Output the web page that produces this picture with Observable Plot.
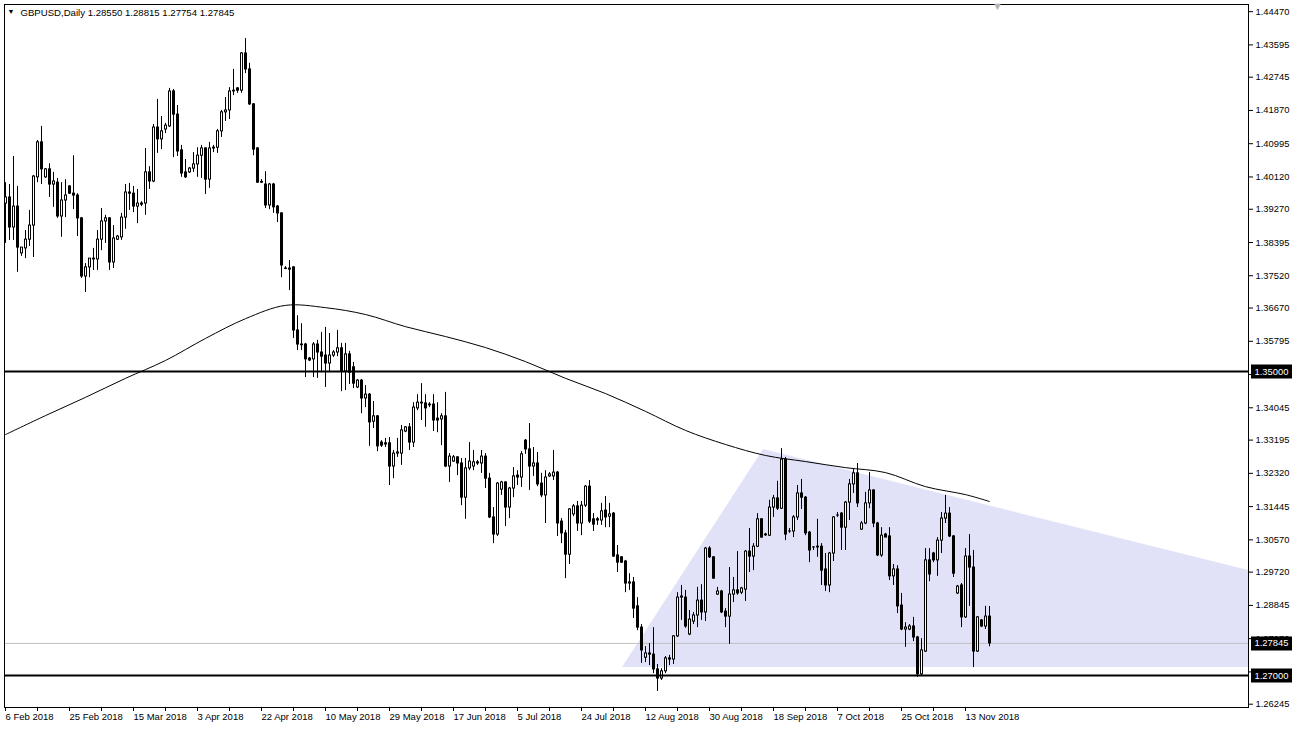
<!DOCTYPE html>
<html><head><meta charset="utf-8">
<script src="https://cdn.jsdelivr.net/npm/d3@7"></script>
<script src="https://cdn.jsdelivr.net/npm/@observablehq/plot@0.6"></script>
<style>html,body{margin:0;padding:0;background:#fff;} svg{display:block}</style>
</head><body><div id="chart"></div>
<script>
const symbol = "GBPUSD";
const timeframe = "Daily";

const opens = [1.3942,1.3958,1.3879,1.3934,1.3811,1.3824,1.3847,1.3884,1.4011,1.4103,
1.4011,1.4032,1.3992,1.3997,1.3908,1.3950,1.3987,1.3968,1.3963,1.3903,
1.3750,1.3774,1.3797,1.3795,1.3847,1.3895,1.3903,1.3787,1.3847,1.3853,
1.3905,1.3971,1.3968,1.3934,1.3942,1.3942,1.4024,1.4000,1.4142,1.4111,
1.4137,1.4145,1.4237,1.4176,1.4082,1.4024,1.4024,1.4034,1.4045,1.4068,
1.4087,1.4005,1.4087,1.4089,1.4132,1.4182,1.4187,1.4237,1.4245,1.4239,
1.4337,1.4295,1.4203,1.4087,1.3997,1.3992,1.3937,1.3992,1.3934,1.3916,
1.3771,1.3771,1.3774,1.3608,1.3571,1.3571,1.3534,1.3532,1.3571,1.3550,
1.3542,1.3521,1.3542,1.3550,1.3561,1.3500,1.3545,1.3511,1.3458,1.3476,
1.3429,1.3439,1.3368,1.3382,1.3313,1.3311,1.3311,1.3250,1.3284,1.3284,
1.3342,1.3353,1.3313,1.3403,1.3418,1.3416,1.3413,1.3413,1.3376,1.3374,
1.3382,1.3250,1.3263,1.3274,1.3258,1.3168,1.3245,1.3250,1.3261,1.3258,
1.3276,1.3218,1.3116,1.3071,1.3189,1.3208,1.3142,1.3192,1.3226,1.3221,
1.3318,1.3295,1.3250,1.3258,1.3205,1.3174,1.3224,1.3224,1.3234,1.3105,
1.3074,1.3018,1.3124,1.3145,1.3100,1.3147,1.3197,1.3111,1.3111,1.3108,
1.3134,1.3118,1.3126,1.3016,1.3011,1.3000,1.2942,1.2945,1.2882,1.2826,
1.2747,1.2758,1.2755,1.2716,1.2692,1.2711,1.2745,1.2742,1.2803,1.2905,
1.2905,1.2808,1.2842,1.2858,1.2897,1.2866,1.3034,1.3011,1.2913,1.2921,
1.2868,1.2855,1.2913,1.2924,1.2918,1.2926,1.3026,1.3013,1.3039,1.3111,
1.3071,1.3068,1.3142,1.3166,1.3139,1.3268,1.3079,1.3079,1.3116,1.3179,
1.3168,1.3076,1.3037,1.3037,1.3039,1.2979,1.2937,1.3021,1.3121,1.3126,
1.3089,1.3155,1.3203,1.3232,1.3084,1.3100,1.3153,1.3187,1.3100,1.3016,
1.3071,1.3066,1.2961,1.2979,1.2884,1.2821,1.2821,1.2829,1.2800,1.2703,
1.2763,1.3003,1.3021,1.3003,1.3055,1.3113,1.3126,1.3066,1.2916,1.2937,
1.2853,1.3013,1.2984,1.2763,1.2845,1.2829,1.28550];

const highs = [1.3997,1.3992,1.4066,1.3987,1.3826,1.3871,1.3924,1.4016,1.4108,1.4145,
1.4034,1.4047,1.4024,1.4008,1.3997,1.4005,1.3989,1.4068,1.3968,1.3905,
1.3784,1.3797,1.3824,1.3871,1.3929,1.3911,1.3905,1.3884,1.3858,1.3916,
1.3992,1.3995,1.3987,1.3979,1.3947,1.4087,1.4039,1.4150,1.4216,1.4171,
1.4153,1.4245,1.4242,1.4200,1.4095,1.4058,1.4037,1.4076,1.4089,1.4095,
1.4089,1.4103,1.4095,1.4137,1.4187,1.4221,1.4247,1.4295,1.4247,1.4339,
1.4376,1.4311,1.4205,1.4089,1.4005,1.4026,1.3995,1.3995,1.3937,1.3918,
1.3776,1.3792,1.3776,1.3647,1.3626,1.3574,1.3537,1.3576,1.3582,1.3603,
1.3616,1.3600,1.3555,1.3608,1.3574,1.3574,1.3553,1.3524,1.3479,1.3479,
1.3463,1.3442,1.3421,1.3384,1.3318,1.3324,1.3326,1.3292,1.3324,1.3358,
1.3355,1.3363,1.3418,1.3439,1.3468,1.3439,1.3418,1.3439,1.3418,1.3389,
1.3445,1.3284,1.3279,1.3276,1.3271,1.3271,1.3313,1.3292,1.3266,1.3292,
1.3284,1.3232,1.3142,1.3208,1.3211,1.3210,1.3195,1.3247,1.3239,1.3289,
1.3321,1.3363,1.3300,1.3287,1.3232,1.3239,1.3234,1.3292,1.3237,1.3113,
1.3082,1.3139,1.3150,1.3158,1.3158,1.3200,1.3213,1.3126,1.3116,1.3153,
1.3171,1.3153,1.3129,1.3042,1.3013,1.3003,1.2968,1.2958,1.2905,1.2834,
1.2776,1.2784,1.2826,1.2729,1.2718,1.2750,1.2753,1.2805,1.2918,1.2937,
1.2924,1.2871,1.2866,1.2932,1.2939,1.3037,1.3039,1.3013,1.2932,1.2924,
1.2876,1.2984,1.2958,1.3026,1.2932,1.3029,1.3087,1.3047,1.3126,1.3113,
1.3074,1.3161,1.3174,1.3211,1.3297,1.3274,1.3087,1.3121,1.3200,1.3216,
1.3171,1.3079,1.3039,1.3111,1.3047,1.3021,1.3024,1.3118,1.3129,1.3129,
1.3158,1.3216,1.3242,1.3258,1.3105,1.3182,1.3234,1.3189,1.3103,1.3089,
1.3074,1.3089,1.2992,1.2989,1.2916,1.2839,1.2834,1.2853,1.2803,1.2797,
1.3034,1.3034,1.3024,1.3063,1.3129,1.3174,1.3142,1.3068,1.2937,1.2942,
1.3034,1.3071,1.3029,1.2855,1.2847,1.2882,1.28815];

const lows = [1.3837,1.3845,1.3845,1.3761,1.3803,1.3797,1.3829,1.3800,1.3997,1.3992,
1.4008,1.3958,1.3932,1.3903,1.3853,1.3905,1.3966,1.3926,1.3855,1.3745,
1.3708,1.3747,1.3766,1.3766,1.3818,1.3837,1.3766,1.3771,1.3845,1.3845,
1.3874,1.3924,1.3918,1.3889,1.3934,1.3911,1.3979,1.3997,1.4074,1.4084,
1.4126,1.4142,1.4063,1.4066,1.4011,1.4008,1.4021,1.4024,1.4011,1.4008,
1.3966,1.3982,1.4076,1.4074,1.4116,1.4158,1.4163,1.4226,1.4232,1.4232,
1.4284,1.4200,1.4068,1.3995,1.3995,1.3929,1.3926,1.3916,1.3892,1.3747,
1.3768,1.3713,1.3587,1.3555,1.3555,1.3484,1.3526,1.3484,1.3482,1.3497,
1.3458,1.3497,1.3537,1.3539,1.3447,1.3450,1.3466,1.3455,1.3455,1.3389,
1.3405,1.3303,1.3350,1.3289,1.3300,1.3300,1.3200,1.3218,1.3274,1.3253,
1.3339,1.3292,1.3300,1.3397,1.3371,1.3353,1.3405,1.3342,1.3339,1.3305,
1.3247,1.3208,1.3261,1.3226,1.3147,1.3111,1.3239,1.3239,1.3253,1.3232,
1.3192,1.3113,1.3047,1.3066,1.3174,1.3092,1.3113,1.3168,1.3200,1.3195,
1.3282,1.3187,1.3224,1.3197,1.3168,1.3100,1.3221,1.3213,1.3066,1.3047,
1.2955,1.2992,1.3118,1.3079,1.3068,1.3142,1.3100,1.3079,1.3095,1.3095,
1.3089,1.3089,1.3011,1.2971,1.2995,1.2918,1.2924,1.2850,1.2818,1.2732,
1.2734,1.2726,1.2705,1.2658,1.2687,1.2705,1.2726,1.2729,1.2800,1.2845,
1.2824,1.2805,1.2834,1.2826,1.2845,1.2842,1.3008,1.2953,1.2911,1.2863,
1.2826,1.2782,1.2892,1.2911,1.2913,1.2895,1.2971,1.2976,1.3037,1.3061,
1.3066,1.3066,1.3116,1.3134,1.3137,1.3055,1.3074,1.3063,1.3108,1.3137,
1.3068,1.2997,1.3029,1.3011,1.2937,1.2921,1.2918,1.3000,1.3116,1.3029,
1.3029,1.3108,1.3179,1.3142,1.3082,1.3097,1.3139,1.3089,1.3013,1.3011,
1.3063,1.2950,1.2937,1.2863,1.2818,1.2774,1.2818,1.2789,1.2695,1.2700,
1.2761,1.2947,1.2997,1.2961,1.3021,1.3100,1.3063,1.2958,1.2913,1.2826,
1.2850,1.2882,1.2721,1.2761,1.2826,1.2821,1.27754];

const closes = [1.3958,1.3879,1.3934,1.3826,1.3826,1.3847,1.3884,1.4013,1.4103,1.4032,
1.4032,1.3992,1.4000,1.3908,1.3950,1.3963,1.3968,1.3963,1.3903,1.3750,
1.3774,1.3797,1.3795,1.3847,1.3895,1.3903,1.3787,1.3850,1.3855,1.3905,
1.3971,1.3968,1.3934,1.3942,1.3939,1.4024,1.4000,1.4142,1.4111,1.4132,
1.4147,1.4237,1.4176,1.4079,1.4021,1.4011,1.4034,1.4045,1.4068,1.4087,
1.4005,1.4087,1.4089,1.4132,1.4182,1.4187,1.4237,1.4239,1.4239,1.4337,
1.4295,1.4203,1.4084,1.3997,1.3999,1.3937,1.3992,1.3932,1.3916,1.3779,
1.3770,1.3768,1.3608,1.3571,1.3569,1.3532,1.3529,1.3571,1.3550,1.3539,
1.3521,1.3542,1.3550,1.3561,1.3500,1.3545,1.3497,1.3468,1.3476,1.3429,
1.3439,1.3366,1.3382,1.3303,1.3305,1.3308,1.3250,1.3284,1.3287,1.3345,
1.3353,1.3313,1.3405,1.3418,1.3416,1.3403,1.3411,1.3371,1.3371,1.3382,
1.3250,1.3276,1.3274,1.3258,1.3168,1.3245,1.3263,1.3261,1.3258,1.3276,
1.3218,1.3116,1.3071,1.3205,1.3208,1.3142,1.3192,1.3224,1.3221,1.3282,
1.3295,1.3250,1.3258,1.3203,1.3174,1.3221,1.3229,1.3234,1.3100,1.3074,
1.3018,1.3137,1.3145,1.3100,1.3147,1.3197,1.3105,1.3097,1.3108,1.3132,
1.3116,1.3124,1.3013,1.2997,1.2997,1.2942,1.2945,1.2876,1.2826,1.2766,
1.2758,1.2755,1.2716,1.2692,1.2711,1.2745,1.2742,1.2803,1.2905,1.2908,
1.2829,1.2847,1.2858,1.2897,1.2866,1.3034,1.3011,1.2955,1.2921,1.2866,
1.2855,1.2913,1.2924,1.2916,1.2929,1.3026,1.3013,1.3039,1.3111,1.3063,
1.3069,1.3142,1.3166,1.3139,1.3268,1.3071,1.3079,1.3116,1.3179,1.3168,
1.3074,1.3029,1.3037,1.3039,1.2976,1.2937,1.3021,1.3116,1.3121,1.3089,
1.3155,1.3203,1.3232,1.3153,1.3100,1.3153,1.3187,1.3100,1.3016,1.3068,
1.3063,1.2961,1.2979,1.2882,1.2821,1.2826,1.2829,1.2800,1.2703,1.2766,
1.3003,1.2966,1.3003,1.3055,1.3113,1.3126,1.3066,1.2968,1.2934,1.2853,
1.3013,1.2984,1.2763,1.2853,1.2829,1.2855,1.27845];

// moving average, read at selected bar positions
const maIndex = [0,10,20,30,40,50,60,70,80,90,100,110,120,130,140,150,160,170,180,190,200,210,220,230,240,246];
const maValues = [1.3334,1.3384,1.3432,1.3482,1.3529,1.3587,1.3639,1.3674,1.3668,1.3650,1.3618,1.3592,1.3563,1.3526,1.3482,1.3442,1.3395,1.3345,1.3308,1.3279,1.3263,1.3247,1.3234,1.3197,1.3176,1.3158];

const dateLabels = ["6 Feb 2018","25 Feb 2018","15 Mar 2018","3 Apr 2018","22 Apr 2018","10 May 2018","29 May 2018","17 Jun 2018","5 Jul 2018","24 Jul 2018","12 Aug 2018","30 Aug 2018","18 Sep 2018","7 Oct 2018","25 Oct 2018","13 Nov 2018"];
const barsPerLabel = 16;

const priceTicks = [1.44470,1.43595,1.42745,1.41870,1.40995,1.40120,1.39270,1.38395,1.37520,1.36670,1.35795,1.34920,1.34045,1.33195,1.32320,1.31445,1.30570,1.29720,1.28845,1.27970,1.27095,1.26245];

const levelLines = [1.35000, 1.27000];

// shaded triangle zone: bar positions and upper edge prices
const shadeIdx = [154.25, 189.5, 310.75];
const shadeTop = [1.2721, 1.3295, 1.2976];
const shadeBase = 1.2721;

// ---------------------------------------------------------------
const bars = opens.map((o, i) => ({i, o, h: highs[i], l: lows[i], c: closes[i]}));
const last = bars[bars.length - 1];
const ma = maIndex.map((i, k) => ({i, v: maValues[k]}));
const shade = shadeIdx.map((i, k) => ({i, p: shadeTop[k]}));
const labelTicks = dateLabels.map((_, k) => k * barsPerLabel);
const labelMap = new Map(labelTicks.map((t, k) => [t, dateLabels[k]]));
const minorTicks = d3.range(0, bars.length, barsPerLabel / 2);
const xMax = 310.75;
const fmt = d3.format(".5f");
const highlights = [levelLines[0], last.c, levelLines[1]];
const header = `${symbol},${timeframe} ${fmt(last.o)} ${fmt(last.h)} ${fmt(last.l)} ${fmt(last.c)}`;
const shiftIdx = bars.length + 1;

const chart = Plot.plot({
  width: 1294, height: 730,
  marginLeft: 4, marginRight: 46, marginTop: 4, marginBottom: 23,
  style: {fontFamily: "'Liberation Sans', Arial, sans-serif", fontSize: "9.4px", background: "#fff", color: "#000", overflow: "visible"},
  x: {domain: [-0.25, xMax]},
  y: {domain: [1.26158, 1.44658]},
  marks: [
    Plot.areaY(shade, {x: "i", y1: () => shadeBase, y2: "p", curve: "linear", fill: "#e1e1f8"}),
    Plot.ruleY([last.c], {stroke: "#c0c0c0"}),
    Plot.line(ma, {x: "i", y: "v", curve: "catmull-rom", stroke: "#000", strokeWidth: 1}),
    Plot.ruleX(bars, {x: "i", y1: d => Math.min(d.l, d.o, d.c), y2: d => Math.max(d.h, d.o, d.c), stroke: "#000"}),
    Plot.rect(bars, {x1: d => d.i - 0.25, x2: d => d.i + 0.5, y1: "o", y2: "c", fill: "#000", insetTop: -0.5, insetBottom: -0.5}),
    Plot.rect(bars.filter(d => d.c > d.o), {x1: d => d.i, x2: d => d.i + 0.25, y1: "o", y2: "c", fill: "#fff", insetTop: 0.5, insetBottom: 0.5}),
    Plot.ruleY(levelLines, {stroke: "#000", strokeWidth: 2}),
    Plot.frame({stroke: "#000"}),
    Plot.axisY(priceTicks, {anchor: "right", tickSize: 4, tickPadding: 3, tickFormat: fmt, label: null}),
    Plot.axisX(minorTicks, {anchor: "bottom", tickSize: 4, fill: "none", label: null}),
    Plot.axisX(labelTicks, {anchor: "bottom", tickSize: 0, tickPadding: 6, tickFormat: d => labelMap.get(d), textAnchor: "start", dx: 0, label: null, fontSize: 9.5}),
    Plot.ruleY(highlights, {x1: () => xMax + 0.75, x2: () => xMax + 11, stroke: "#000", strokeWidth: 14}),
    Plot.text(highlights, {y: d => d, x: () => xMax, dx: 6, textAnchor: "start", text: d => fmt(d), fill: "#fff"}),
    Plot.text([header], {frameAnchor: "top-left", dx: 16, dy: 5, textAnchor: "start", lineAnchor: "top", fontSize: 9.6, fill: "#000"}),
    Plot.text(["\u25BC"], {frameAnchor: "top-left", dx: 3, dy: 5, textAnchor: "start", lineAnchor: "top", fontSize: 7, fill: "#000"}),
    Plot.text(["\u25BC"], {x: () => shiftIdx, frameAnchor: "top", dy: -2, lineAnchor: "top", fontSize: 11, fill: "#b4b4b4"})
  ]
});
document.getElementById("chart").appendChild(chart);
</script>
</body></html>
